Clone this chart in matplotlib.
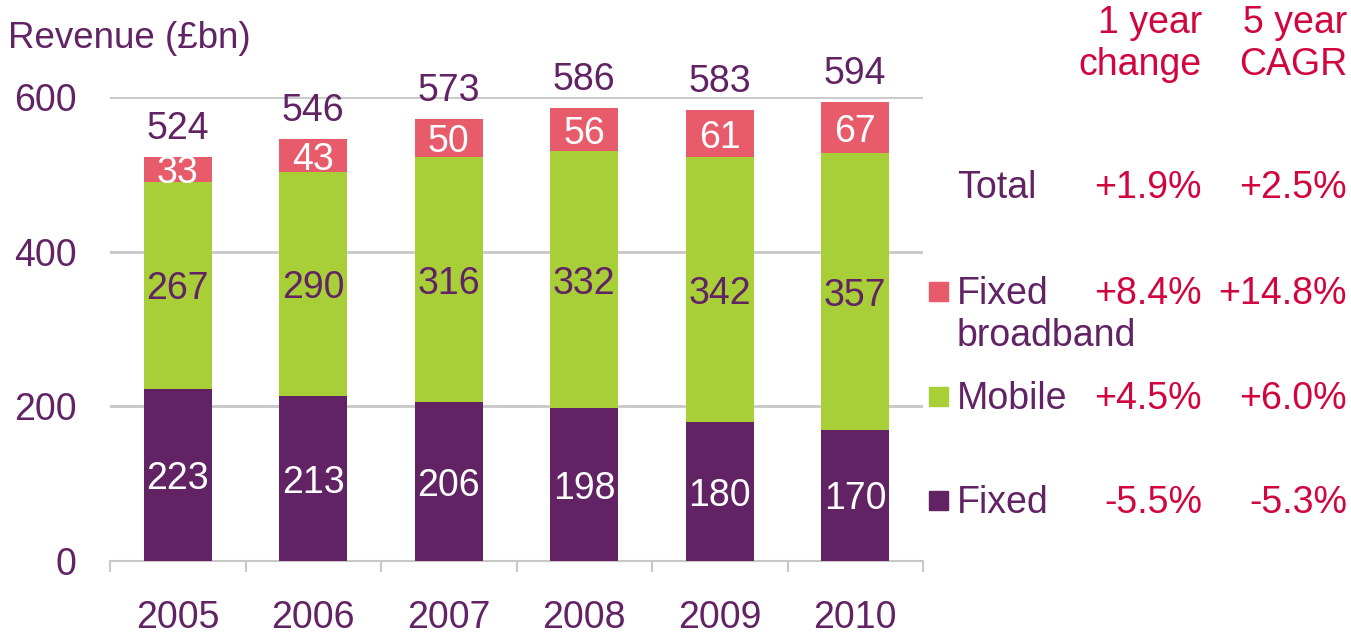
import matplotlib.pyplot as plt
from matplotlib.patches import Rectangle
import numpy as np

years = ["2005", "2006", "2007", "2008", "2009", "2010"]
fixed = [223, 213, 206, 198, 180, 170]
mobile = [267, 290, 316, 332, 342, 357]
broadband = [33, 43, 50, 56, 61, 67]
totals = [524, 546, 573, 586, 583, 594]

legend_names = ["Total", "Fixed", "Mobile", "Fixed"]
one_year = ["+1.9%", "+8.4%", "+4.5%", "-5.5%"]
cagr = ["+2.5%", "+14.8%", "+6.0%", "-5.3%"]

PURPLE = "#622365"
GREEN = "#A8CF38"
PINK = "#E75B6B"
RED = "#D1063F"
GREY = "#C8C8C8"

plt.rcParams["font.family"] = ["Liberation Sans", "DejaVu Sans"]

W, H = 1351, 635
fig = plt.figure(figsize=(W / 100, H / 100), dpi=100)


def fx(px):
    return px / W


def fy(py):
    return 1 - py / H


ax = fig.add_axes([fx(110), fy(561), fx(923) - fx(110), fy(97) - fy(561)])
x = np.arange(len(years))
bw = 0.5

ax.bar(x, fixed, bw, color=PURPLE, zorder=3)
ax.bar(x, mobile, bw, bottom=fixed, color=GREEN, zorder=3)
bottom_bb = np.array(fixed) + np.array(mobile)
ax.bar(x, broadband, bw, bottom=bottom_bb, color=PINK, zorder=3)

fs = 27


def seg_label(xi, yv, txt, col):
    ax.annotate(txt, (xi, yv), xytext=(0, -3), textcoords="offset points",
                ha="center", va="center", color=col, fontsize=fs, zorder=4)


for i in range(len(years)):
    seg_label(x[i], fixed[i] / 2, str(fixed[i]), "white")
    seg_label(x[i], fixed[i] + mobile[i] / 2, str(mobile[i]), PURPLE)
    seg_label(x[i], bottom_bb[i] + broadband[i] / 2, str(broadband[i]),
              "white")
    ax.annotate(str(totals[i]), (x[i], bottom_bb[i] + broadband[i]),
                xytext=(0, 7), textcoords="offset points", ha="center",
                va="bottom", color=PURPLE, fontsize=fs, zorder=4,
                annotation_clip=False)

ax.set_xlim(-0.5, len(years) - 0.5)
ax.set_ylim(0, 600)
ax.set_yticks([0, 200, 400, 600])
ax.set_xticks(x)
ax.set_xticklabels(years)
ax.set_xticks(np.arange(-0.5, len(years)), minor=True)
ax.tick_params(axis="x", which="major", length=0, pad=28, labelsize=fs,
               labelcolor=PURPLE)
ax.tick_params(axis="x", which="minor", length=8, width=1.5, color=GREY,
               direction="out")
ax.tick_params(axis="y", length=0, pad=24, labelsize=fs, labelcolor=PURPLE)
ax.yaxis.grid(True, color=GREY, linewidth=2, zorder=0)
for s in ["top", "right", "left"]:
    ax.spines[s].set_visible(False)
ax.spines["bottom"].set_color(GREY)
ax.spines["bottom"].set_linewidth(1.5)

fig.text(fx(8), fy(39), "Revenue (£bn)", color=PURPLE, fontsize=26.5,
         ha="left", va="center")

# table on the right
for hx, htxt in [(1202, "1 year\nchange"), (1347, "5 year\nCAGR")]:
    fig.text(fx(hx), fy(44), htxt, color=RED, fontsize=fs, ha="right",
             va="center", linespacing=1.2, multialignment="right")

row_y = [188, 294, 399, 503]
swatch = [None, PINK, GREEN, PURPLE]
for name, a, b, ry, col in zip(legend_names, one_year, cagr, row_y, swatch):
    fig.text(fx(957), fy(ry), name, color=PURPLE, fontsize=fs, ha="left",
             va="center")
    fig.text(fx(1202), fy(ry), a, color=RED, fontsize=fs, ha="right",
             va="center")
    fig.text(fx(1347), fy(ry), b, color=RED, fontsize=fs, ha="right",
             va="center")
    if col is not None:
        fig.patches.append(Rectangle((fx(929), fy(ry + 7)), fx(19), 19 / H,
                                     transform=fig.transFigure, color=col))
fig.text(fx(957), fy(336), "broadband", color=PURPLE, fontsize=fs,
         ha="left", va="center")

fig.savefig("out.png", dpi=100)
